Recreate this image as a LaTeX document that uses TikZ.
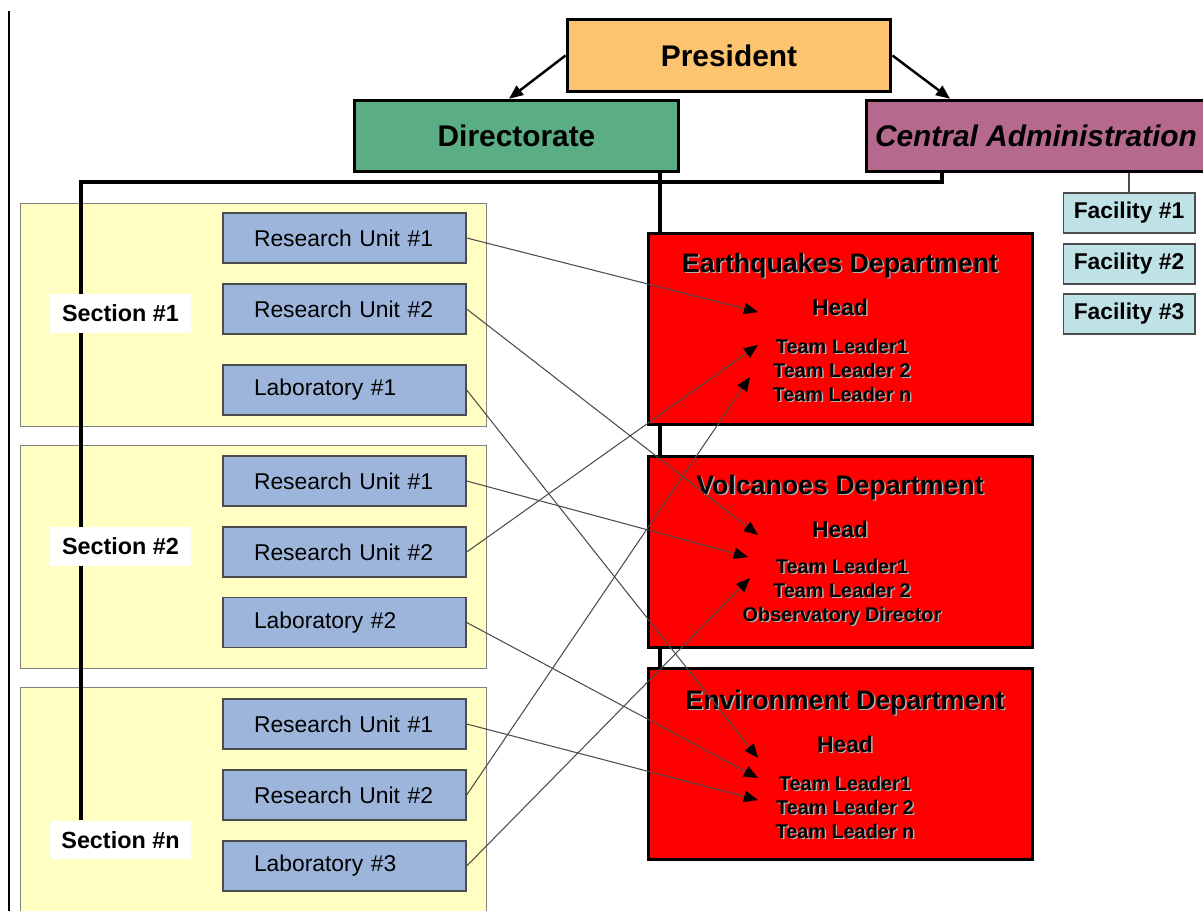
\documentclass[tikz,border=0pt]{standalone}
\usepackage{fontspec}
\setmainfont{Liberation Sans}
\usetikzlibrary{arrows.meta}
\definecolor{presorange}{HTML}{FDC46F}
\definecolor{dirgreen}{HTML}{5BAE84}
\definecolor{adminmauve}{HTML}{B56A8D}
\definecolor{faccyan}{HTML}{BEE2E6}
\definecolor{secyellow}{HTML}{FFFFC4}
\definecolor{unitblue}{HTML}{9DB5DB}
\newcommand{\shd}[1]{\rlap{\textcolor{black!30}{\kern0.8pt\raisebox{-0.8pt}{#1}}}#1}

\begin{document}
\begin{tikzpicture}[x=0.02cm,y=-0.02cm,
	topbox/.style={draw=black,line width=1.7pt,inner sep=0pt,minimum height=1.43cm,font=\bfseries\fontsize{17}{20}\selectfont},
	section/.style={draw=black!50,fill=secyellow,minimum width=9.32cm,minimum height=4.46cm,inner sep=0pt},
	seclabel/.style={fill=white,minimum width=2.82cm,minimum height=0.78cm,inner sep=0pt,font=\bfseries\fontsize{13.3}{16}\selectfont},
	unit/.style={draw=black!70,line width=0.8pt,fill=unitblue,text width=3.62cm,inner xsep=0.62cm,inner ysep=0pt,minimum height=1cm,align=left,font=\fontsize{13}{15}\selectfont},
	dept/.style={draw=black,line width=1.7pt,fill=red,minimum width=7.7cm,minimum height=3.84cm,inner sep=0pt},
	depttitle/.style={font=\bfseries\fontsize{15.2}{18}\selectfont},
	depthead/.style={font=\bfseries\fontsize{13}{15}\selectfont},
	deptteam/.style={align=center,font=\bfseries\fontsize{11.3}{13.6}\selectfont},
	facility/.style={draw=black!70,line width=0.6pt,fill=faccyan,minimum width=2.64cm,minimum height=0.8cm,inner sep=0pt,font=\bfseries\fontsize{13}{15}\selectfont},
	trunk/.style={line width=2.8pt},
	link/.style={draw=black!70,line width=0.6pt,-{Triangle[length=8pt,width=6.5pt,color=black]}}]

	\useasboundingbox (0,0) rectangle (1203,911);
	\clip (0,0) rectangle (1203,911);

	\draw[line width=1.1pt] (9,11) -- (9,911);

	%% Sections
	\node[section] at (253,314.5)(sec1){};
	\node[section] at (253,557)(sec2){};
	\node[section,minimum height=4.9cm] at (253,810)(secn){};

	%% trunk lines
	\coordinate (corner) at (81,182);
	\coordinate (dirjoin) at (660,182);
	\coordinate (cajoin) at (942,182);

	%% Top of the chart
	\node[topbox,fill=presorange,minimum width=6.48cm] at (729,55.5)(pres){President};
	\node[topbox,fill=dirgreen,minimum width=6.5cm] at (516.5,136)(dir){Directorate};
	\node[topbox,fill=adminmauve,minimum width=6.8cm] at (1036,136)(ca){\itshape Central Administration};

	\node[seclabel] at (120.5,840)(sn){Section \#n};

	\draw[trunk] (sn.north -| corner) -- (corner) -- (cajoin) -- (cajoin |- ca.south);
	\draw[trunk] (dirjoin |- dir.south) -- (dirjoin |- 0,668);

	\node[seclabel] at (120.5,313.5)(s1){Section \#1};
	\node[seclabel] at (120.5,546.5)(s2){Section \#2};

	%% Units
	\node[unit] at (344.5,238)(s1ru1){Research Unit \#1};
	\node[unit] at (344.5,309)(s1ru2){Research Unit \#2};
	\node[unit] at (344.5,390)(s1lab){Laboratory \#1};

	\node[unit] at (344.5,481)(s2ru1){Research Unit \#1};
	\node[unit] at (344.5,552)(s2ru2){Research Unit \#2};
	\node[unit] at (344.5,622.5)(s2lab){Laboratory \#2};

	\node[unit] at (344.5,724)(snru1){Research Unit \#1};
	\node[unit] at (344.5,795)(snru2){Research Unit \#2};
	\node[unit] at (344.5,866)(snlab){Laboratory \#3};

	%% Facilities
	\node[facility] at (1129,213)(fac1){Facility \#1};
	\node[facility] at (1129,264)(fac2){Facility \#2};
	\node[facility] at (1129,314)(fac3){Facility \#3};
	\draw[black!70,line width=0.6pt] (fac1.north) -- (fac1.north |- ca.south);

	%% Departments
	\node[dept] at (840.5,329)(eq){};
	\node[depttitle] at (840,266)(eqtitle){\shd{Earthquakes Department}};
	\node[depthead] at (840,308)(eqhead){\shd{Head}};
	\node[deptteam] at (842,371)(eqteam){\shd{Team Leader1}\\\shd{Team Leader 2}\\\shd{Team Leader n}};

	\node[dept] at (840.5,552)(vo){};
	\node[depttitle] at (840,488)(votitle){\shd{Volcanoes Department}};
	\node[depthead] at (840,530)(vohead){\shd{Head}};
	\node[deptteam] at (842,593)(voteam){\shd{Team Leader1}\\\shd{Team Leader 2}\\\shd{Observatory Director}};

	\node[dept] at (840.5,764)(en){};
	\node[depttitle] at (845,703)(entitle){\shd{Environment Department}};
	\node[depthead] at (845,745)(enhead){\shd{Head}};
	\node[deptteam] at (845,808)(enteam){\shd{Team Leader1}\\\shd{Team Leader 2}\\\shd{Team Leader n}};

	%% arrow ends
	\coordinate (eqH) at (758,312);
	\coordinate (eqT1) at (758,345);
	\coordinate (eqT2) at (750,377);
	\coordinate (voH) at (758,535);
	\coordinate (voT1) at (748,557);
	\coordinate (voT2) at (750,578);
	\coordinate (enH) at (758,758);
	\coordinate (enT1) at (758,778);
	\coordinate (enT2) at (758,800);

	\path[every edge/.append style={link}]
		(s1ru1.east)edge(eqH)(s1ru2.east)edge(voH)(s1lab.east)edge(enH)
		(s2ru1.east)edge(voT1)(s2ru2.east)edge(eqT1)(s2lab.east)edge(enT1)
		(snru1.east)edge(enT2)(snru2.east)edge(eqT2)(snlab.east)edge(voT2);

	\draw[line width=1.4pt,-{Triangle[length=8pt,width=6.5pt]}] (pres.west) -- ([xshift=-0.15cm]dir.north);
	\draw[line width=1.4pt,-{Triangle[length=8pt,width=6.5pt]}] (pres.east) -- ([xshift=-1.72cm]ca.north);
\end{tikzpicture}
\end{document}
